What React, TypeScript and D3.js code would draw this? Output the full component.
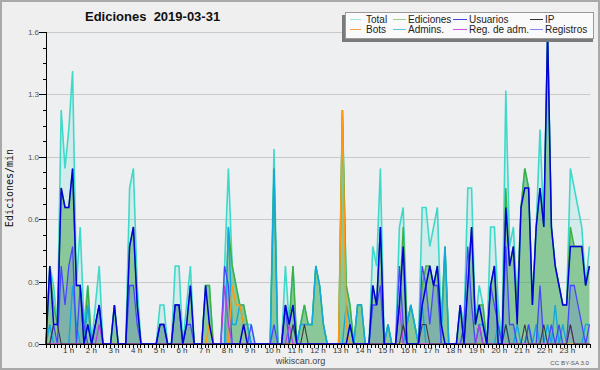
import React from "react";
import * as d3 from "d3";

// ---- Data: edits per minute, 10-minute intervals, 2019-03-31 (144 points) ----
const total = [
  0, .4, .3, .1, 1.2, .9, 1.1, 1.4, .3, .6, .1, .3,
  0, .2, .4, 0, 0, 0, .2, 0, 0, 0, .8, .9,
  .3, 0, 0, 0, 0, 0, .2, .2, 0, 0, .4, .4,
  0, .2, .4, 0, 0, 0, .3, .3, 0, 0, 0, .4,
  .9, .4, .3, .2, .2, .1, .1, 0, 0, 0, 0, 0,
  1, 0, 0, .4, .1, .4, 0, .1, .2, .1, .1, .4,
  .3, .1, 0, 0, 0, 0, 1.2, .3, .2, 0, .2, .2,
  0, 0, .5, .4, .9, 0, .1, 0, 0, .6, .7, .1,
  .2, .1, 0, .7, .7, .5, .6, .7, .1, .5, 0, 0,
  0, .2, .1, .8, .8, .1, .3, .2, 0, .6, .6, .2,
  0, 1.3, .5, .6, .2, .7, .9, .8, .2, .6, 1.1, .6,
  1.6, .6, .4, .3, .2, .2, .9, .8, .7, .6, .3, .5,
];
const ediciones = [
  0, .4, .2, .1, .8, .7, .7, .9, .3, .3, 0, .3,
  0, .1, .2, 0, 0, 0, .2, 0, 0, 0, .5, .6,
  .2, 0, 0, 0, 0, 0, .1, .1, 0, 0, .2, .2,
  0, .1, .3, 0, 0, 0, .3, .3, 0, 0, 0, 0,
  .6, .4, .3, .2, .2, .1, 0, 0, 0, 0, 0, 0,
  .9, 0, 0, .2, .1, .4, 0, .1, .2, .1, .1, .4,
  .3, .1, 0, 0, 0, 0, 1.2, .3, .2, 0, .2, .2,
  0, 0, .3, .2, .6, 0, .1, 0, 0, .2, .6, .1,
  .2, .1, 0, .3, .4, .4, .3, .4, .1, .5, 0, 0,
  0, .2, 0, .3, .6, .1, .2, .2, 0, .3, .4, .1,
  0, .8, .4, .5, .2, .7, .9, .8, .2, .6, .8, .6,
  1.6, .6, .4, .3, .2, .2, .6, .5, .5, .5, .3, .4,
];
const usuarios = [
  0, .4, .1, .1, .8, .7, .7, .9, .3, .3, 0, .1,
  0, .1, .2, 0, 0, 0, .2, 0, 0, 0, .5, .6,
  .2, 0, 0, 0, 0, 0, .1, .1, 0, 0, .2, .2,
  0, .1, .3, 0, 0, 0, .3, .1, 0, 0, 0, 0,
  0, 0, 0, 0, .1, 0, 0, 0, 0, 0, 0, 0,
  0, 0, 0, .2, .1, .2, 0, 0, 0, 0, 0, 0,
  0, 0, 0, 0, 0, 0, 0, 0, .1, 0, 0, 0,
  0, 0, .3, .2, .6, 0, 0, 0, 0, .2, .5, 0,
  0, 0, 0, .2, .3, .4, .3, .4, .1, 0, 0, 0,
  0, .2, 0, .3, .6, .1, .2, .1, 0, .3, .4, 0,
  0, .7, .4, .5, .1, .7, .8, .8, .2, .6, .8, .6,
  1.6, .6, .4, .3, .2, .2, .5, .5, .5, .5, .3, .4,
];
const ip = [
  0, 0, .1, .1, 0, 0, 0, 0, 0, 0, 0, 0,
  0, 0, 0, 0, 0, 0, 0, 0, 0, 0, 0, 0,
  0, 0, 0, 0, 0, 0, 0, 0, 0, 0, 0, 0,
  0, 0, 0, 0, 0, 0, 0, 0, 0, 0, 0, 0,
  0, 0, 0, 0, 0, 0, 0, 0, 0, 0, 0, 0,
  0, 0, 0, 0, 0, .1, 0, 0, .1, 0, 0, 0,
  0, 0, 0, 0, 0, 0, 0, 0, 0, 0, 0, 0,
  0, 0, 0, 0, 0, 0, 0, 0, 0, 0, .1, 0,
  0, 0, 0, .1, .1, 0, 0, 0, 0, 0, 0, 0,
  0, 0, 0, 0, 0, 0, 0, 0, 0, 0, 0, 0,
  0, .1, 0, 0, 0, 0, .1, 0, 0, 0, 0, .1,
  0, 0, 0, 0, 0, 0, .1, 0, 0, 0, 0, 0,
];
const bots = [
  0, 0, 0, 0, 0, 0, 0, 0, 0, 0, 0, 0,
  0, 0, 0, 0, 0, 0, 0, 0, 0, 0, 0, 0,
  0, 0, 0, 0, 0, 0, 0, 0, 0, 0, 0, 0,
  0, 0, 0, 0, 0, 0, 0, .1, 0, 0, 0, 0,
  0, .3, .2, .2, .1, 0, 0, 0, 0, 0, 0, 0,
  0, 0, 0, 0, 0, 0, 0, 0, 0, 0, 0, 0,
  0, 0, 0, 0, 0, 0, 1.2, .1, 0, 0, 0, 0,
  0, 0, 0, 0, 0, 0, 0, 0, 0, 0, 0, 0,
  0, 0, 0, 0, 0, 0, 0, 0, 0, 0, 0, 0,
  0, 0, 0, 0, 0, 0, 0, 0, 0, 0, 0, 0,
  0, 0, 0, 0, 0, 0, 0, 0, 0, 0, 0, 0,
  0, 0, 0, 0, 0, 0, 0, 0, 0, 0, 0, 0,
];
const admins = [
  0, .1, 0, 0, 0, 0, 0, .3, .1, 0, 0, .2,
  0, 0, 0, 0, 0, 0, 0, 0, 0, 0, 0, 0,
  0, 0, 0, 0, 0, 0, 0, 0, 0, 0, 0, 0,
  0, 0, 0, 0, 0, 0, 0, 0, 0, 0, 0, 0,
  .6, .1, .1, .2, .1, .1, 0, 0, 0, 0, 0, 0,
  .9, 0, 0, 0, 0, .1, 0, .1, .1, .1, .1, .4,
  .3, .1, 0, 0, 0, 0, 0, .2, .1, 0, .2, .2,
  0, 0, 0, 0, 0, 0, .1, 0, 0, 0, 0, .1,
  .2, .1, 0, .2, 0, 0, 0, 0, 0, .5, 0, 0,
  0, 0, 0, 0, 0, 0, .1, .1, 0, 0, 0, .1,
  0, .1, 0, 0, .1, 0, 0, .1, 0, .1, 0, 0,
  .1, 0, .2, 0, .1, 0, 0, 0, 0, 0, .1, .1,
];
const registros = [
  0, 0, .1, 0, .4, .2, .4, .5, 0, .3, .1, 0,
  0, .1, .2, 0, 0, 0, 0, 0, 0, 0, .3, .3,
  .1, 0, 0, 0, 0, 0, .1, .1, 0, 0, .2, .2,
  0, .1, .1, 0, 0, 0, 0, 0, 0, 0, 0, .4,
  .3, 0, 0, 0, 0, 0, .1, 0, 0, 0, 0, 0,
  .1, 0, 0, .2, 0, 0, 0, 0, 0, 0, 0, 0,
  0, 0, 0, 0, 0, 0, 0, 0, 0, 0, 0, 0,
  0, 0, .2, .2, .3, 0, 0, 0, 0, .4, .1, 0,
  0, 0, 0, .4, .3, .1, .3, .3, 0, 0, 0, 0,
  0, 0, .1, .5, .2, 0, .1, 0, 0, .3, .2, .1,
  0, .5, .1, .1, 0, 0, 0, .1, 0, 0, .3, 0,
  0, .1, 0, .1, 0, 0, .3, .3, .2, .1, 0, .1,
];
const regAdm = [
  0, 0, 0, 0, 0, 0, 0, 0, 0, 0, 0, 0,
  0, 0, .1, 0, 0, 0, 0, 0, 0, 0, 0, 0,
  0, 0, 0, 0, 0, 0, 0, 0, 0, 0, 0, 0,
  0, 0, 0, 0, 0, 0, 0, 0, 0, 0, 0, .3,
  .1, 0, 0, 0, 0, 0, 0, 0, 0, 0, 0, 0,
  0, 0, 0, 0, .1, 0, 0, 0, 0, 0, 0, 0,
  0, 0, 0, 0, 0, 0, 0, 0, 0, 0, 0, 0,
  0, 0, 0, 0, 0, 0, 0, 0, 0, .2, 0, 0,
  0, 0, 0, 0, 0, 0, 0, 0, 0, 0, 0, 0,
  0, 0, 0, 0, 0, 0, .1, 0, 0, 0, 0, 0,
  0, 0, 0, 0, 0, 0, 0, 0, 0, 0, 0, 0,
  0, 0, 0, 0, 0, 0, .1, 0, 0, 0, 0, 0,
];

const hourTicks = d3.range(1, 24);
const yTickValues = [0, 0.32, 0.64, 0.96, 1.28, 1.6];
const titleText = "Ediciones  2019-03-31";
const yAxisTitle = "Ediciones/min";

// ---- Styles ----
const C = {
  total: "#3fd9c9",
  ediciones: "#3fae3f",
  usuarios: "#0000d8",
  ip: "#3a3a3a",
  bots: "#ff9a10",
  admins: "#12a8e0",
  regAdm: "#b43ee6",
  registros: "#4646ff",
};

const legendRows = [
  [
    { name: "Total", color: "#9fe6de" },
    { name: "Ediciones", color: "#92d292" },
    { name: "Usuarios", color: "#4444dd" },
    { name: "IP", color: "#333333" },
  ],
  [
    { name: "Bots", color: "#f4a040" },
    { name: "Admins.", color: "#52c6e2" },
    { name: "Reg. de adm.", color: "#d050e0" },
    { name: "Registros", color: "#8484f0" },
  ],
];
const legendCols = [
  { s1: 350, s2: 361, tx: 366 },
  { s1: 393, s2: 406, tx: 408 },
  { s1: 453, s2: 467, tx: 469 },
  { s1: 530, s2: 543, tx: 545 },
];

export default function App() {
  const left = 46, right = 590, top = 32, bottom = 344;
  const x = d3.scaleLinear().domain([0, total.length - 1]).range([left, 589.4]);
  const xHour = d3.scaleLinear().domain([0, 24]).range([left, right]);
  const y = d3.scaleLinear().domain([0, 1.6]).range([bottom, top]);

  const line = d3.line<number>().x((_, i) => x(i)).y((d) => y(d));
  const area = d3
    .area<number>()
    .x((_, i) => x(i))
    .y0(y(0))
    .y1((d) => y(d));

  const minorY = d3.range(0, 1.6001, 0.08);
  const xTicks = d3.range(0, 24 * 6 + 1).map((k) => xHour(k / 6));
  const fmt = d3.format(".1f");

  const lines = [
    { v: total, c: C.total, w: 1.6 },
    { v: ediciones, c: C.ediciones, w: 1.4 },
    { v: admins, c: C.admins, w: 1.4 },
    { v: registros, c: C.registros, w: 1.3 },
    { v: bots, c: C.bots, w: 1.5 },
    { v: regAdm, c: C.regAdm, w: 1.3 },
    { v: ip, c: C.ip, w: 1.1 },
    { v: usuarios, c: C.usuarios, w: 1.5 },
  ];

  const font = "'Liberation Sans', Arial, sans-serif";

  return (
    <svg
      width={600}
      height={370}
      style={{ position: "absolute", left: 0, top: 0, display: "block" }}
      fontFamily={font}
    >
      <rect x={0} y={0} width={600} height={370} fill="#efefef" />
      <rect x={1} y={1} width={598} height={368} fill="none" stroke="#a9a9a9" strokeWidth={2} />
      <rect x={left} y={top} width={right - left} height={bottom - top} fill="#eeeff1" />

      {/* grid */}
      {yTickValues.slice(1).map((t) => (
        <line
          key={"g" + t}
          x1={left}
          x2={right}
          y1={Math.round(y(t)) + 0.5}
          y2={Math.round(y(t)) + 0.5}
          stroke="#c9c9c9"
          strokeWidth={1}
        />
      ))}

      {/* fills */}
      <path d={area(total) || ""} fill={C.total} fillOpacity={0.15} />
      <path d={area(ediciones) || ""} fill="#2f9a2f" fillOpacity={0.44} />
      <path d={area(registros) || ""} fill={C.registros} fillOpacity={0.16} />

      {/* lines */}
      {lines.map((s, k) => (
        <path
          key={"l" + k}
          d={line(s.v) || ""}
          fill="none"
          stroke={s.c}
          strokeWidth={s.w}
          strokeLinejoin="miter"
        />
      ))}

      {/* axes */}
      <line x1={left + 0.5} x2={left + 0.5} y1={top} y2={bottom + 1} stroke="#000" />
      <line x1={left} x2={right} y1={bottom + 0.5} y2={bottom + 0.5} stroke="#000" />
      {minorY.map((t, k) => (
        <line
          key={"my" + k}
          x1={left - 3}
          x2={left}
          y1={Math.round(y(t)) + 0.5}
          y2={Math.round(y(t)) + 0.5}
          stroke="#000"
        />
      ))}
      {yTickValues.map((t) => (
        <g key={"yt" + t}>
          <line
            x1={left - 7}
            x2={left}
            y1={Math.round(y(t)) + 0.5}
            y2={Math.round(y(t)) + 0.5}
            stroke="#000"
          />
          <text
            x={39}
            y={y(t) + 3}
            textAnchor="end"
            fontSize={8}
            fill="#555"
          >
            {fmt(t)}
          </text>
        </g>
      ))}
      {xTicks.map((px, k) => (
        <line
          key={"xt" + k}
          x1={Math.round(px) + 0.5}
          x2={Math.round(px) + 0.5}
          y1={bottom}
          y2={bottom + 4}
          stroke="#000"
        />
      ))}
      {hourTicks.map((h) => (
        <text
          key={"h" + h}
          x={xHour(h)}
          y={353}
          textAnchor="middle"
          fontSize={8}
          fill="#333"
        >
          {h + " h"}
        </text>
      ))}

      {/* titles */}
      <text x={85} y={21} fontSize={13} fontWeight="bold" fill="#111" style={{ whiteSpace: "pre" }}>
        {titleText}
      </text>
      <text
        transform="translate(13,188) rotate(-90)"
        textAnchor="middle"
        fontSize={10}
        fontFamily="'DejaVu Sans Mono', monospace"
        fill="#111"
      >
        {yAxisTitle}
      </text>
      <text x={300.5} y={364} textAnchor="middle" fontSize={9} fill="#444">
        wikiscan.org
      </text>
      <text x={589} y={365} textAnchor="end" fontSize={6.2} fill="#555">
        CC BY-SA 3.0
      </text>

      {/* legend */}
      <rect x={342} y={15} width={251} height={27} fill="#7a7a7a" />
      <rect x={345.5} y={12.5} width={248} height={26} fill="#fafafa" stroke="#9a9a9a" />
      {legendRows.map((row, r) =>
        row.map((item, c) => (
          <g key={"lg" + r + c}>
            <line
              x1={legendCols[c].s1}
              x2={legendCols[c].s2}
              y1={19.5 + r * 10}
              y2={19.5 + r * 10}
              stroke={item.color}
              strokeWidth={1}
            />
            <text x={legendCols[c].tx} y={23 + r * 10} fontSize={10} fill="#222">
              {item.name}
            </text>
          </g>
        ))
      )}
    </svg>
  );
}
